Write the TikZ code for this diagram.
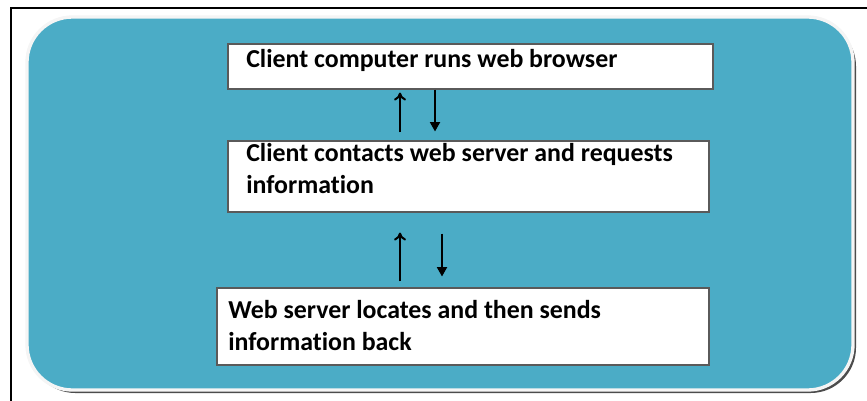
\documentclass[tikz,border=0pt]{standalone}
\usepackage{fontspec}
\setmainfont{Carlito}[Ligatures=NoCommon]
\usetikzlibrary{fit, arrows.meta}
\definecolor{panelblue}{RGB}{75,172,198}
\definecolor{boxedge}{RGB}{90,90,90}
\tikzset{
  stepbox/.style={draw=boxedge, fill=white, line width=0.8pt, inner sep=0pt},
  steptext/.style={anchor=base west, inner sep=0pt, align=left, font=\fontsize{19.4}{23.5}\selectfont\bfseries},
  uparrow/.style={-{To[length=6pt,width=9pt]}, line width=1.5pt},
  downarrow/.style={-{Triangle[length=7pt,width=7.5pt]}, line width=1.3pt},
}
\begin{document}
\begin{tikzpicture}[x=0.75pt,y=0.75pt,yscale=-1,xscale=1]
    \useasboundingbox (0,0) rectangle (867,400);
    \clip (0,0) rectangle (867,400);
    
    % Frame
    \draw[line width=1.5pt] (11,420) -- (11,8) -- (880,8);
    % Shape: Rounded Rect (shadow, then panel)
    \fill[gray!60!black, rounded corners=34pt] (30,21) rectangle (856,393);
    \draw[white!92!gray, line width=2.5pt, fill=panelblue, rounded corners=34pt] (27,17) rectangle (853,390);
    
    % Shape: Rectangle
    \node[stepbox, fit={(228,44) (713,89)}] (b1) {};
    % Shape: Rectangle
    \node[stepbox, fit={(228,141) (709,212)}] (b2) {};
    % Shape: Rectangle
    \node[stepbox, fit={(217,288) (709,365)}] (b3) {};
    
    % Text Node (base anchor sits on the last line)
    \node[steptext] (t1) at (246,67) {Client computer runs web browser};
    % Text Node
    \node[steptext] (t2) at (246,193) {Client contacts web server and requests\\information};
    % Text Node
    \node[steptext] (t3) at (228,350) {Web server locates and then sends\\information back};
    
    % Arrows
    \coordinate (x1) at (400,0);
    \coordinate (x2) at (435,0);
    \coordinate (x3) at (442,0);
    \draw[uparrow, shorten <=6pt, shorten >=2.25pt] (b2.north -| x1) -- (b1.south -| x1);
    \draw[downarrow, shorten >=6.75pt] (b1.south -| x2) -- (b2.north -| x2);
    \draw[uparrow, shorten <=4.5pt, shorten >=15pt] (b3.north -| x1) -- (b2.south -| x1);
    \draw[downarrow, shorten <=15.75pt, shorten >=8.25pt] (b2.south -| x3) -- (b3.north -| x3);
    
\end{tikzpicture}
\end{document}
